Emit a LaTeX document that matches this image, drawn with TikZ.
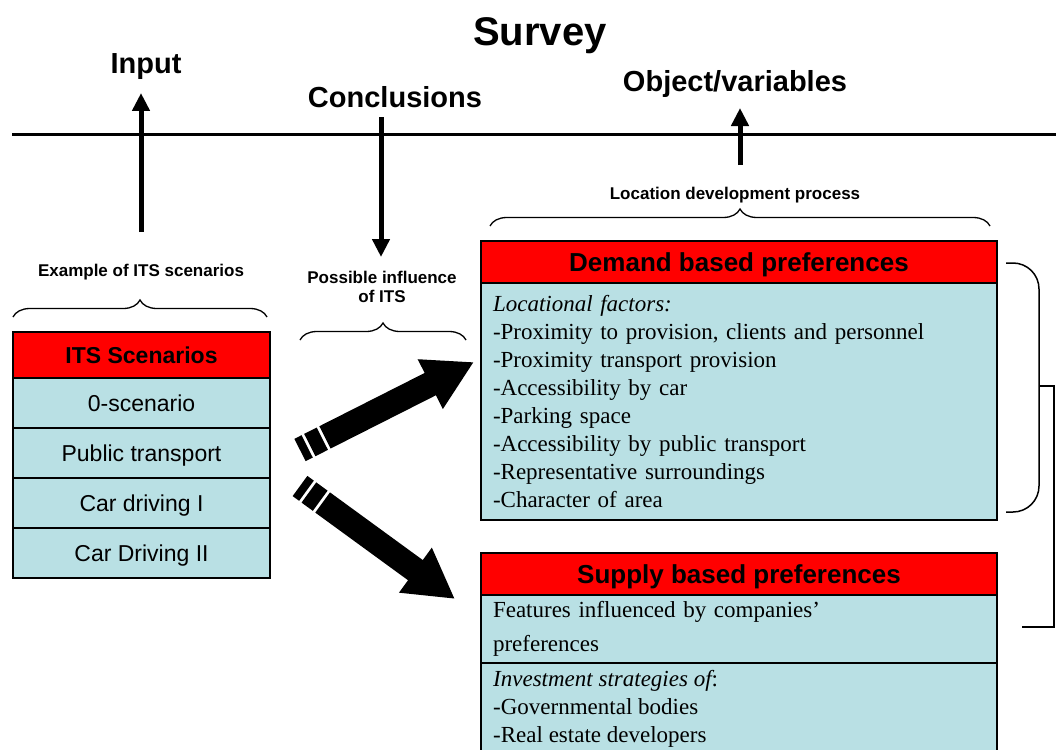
\documentclass[tikz,border=0pt]{standalone}
\usepackage{fontspec}
\setmainfont{Liberation Sans}
\newfontfamily\tnr{Liberation Serif}
\usetikzlibrary{positioning,arrows.meta,decorations.pathreplacing,calc}
\definecolor{cellblue}{RGB}{185,224,228}
\newcommand{\fs}[2]{\fontsize{#1}{#2}\selectfont}

\begin{document}
\begin{tikzpicture}[x=1pt,y=-1pt,
  hdr/.style={draw,line width=1.5pt,fill=red,outer sep=0pt,inner sep=0pt,minimum width=516pt,minimum height=42pt,text height=18.6pt,text depth=0pt,font=\bfseries\fs{26}{30}},
  cell/.style={draw,line width=1.5pt,fill=cellblue,outer sep=0pt,inner sep=0pt,minimum width=257pt,minimum height=50pt,text height=16.5pt,text depth=0pt,font=\fs{23}{26}},
  body/.style={draw,line width=1.5pt,fill=cellblue,outer sep=0pt,text width=492pt,align=left,inner xsep=12pt,inner ysep=0pt,font=\tnr\fs{23}{27.9}},
  title/.style={font=\bfseries\fs{29}{32},text height=20.8pt,text depth=0pt},
  small/.style={font=\bfseries\fs{17}{19},align=center},
  brace/.style={decorate,decoration={brace,amplitude=17pt},line width=1.3pt},
  thinarrow/.style={line width=5pt,-{Triangle[length=18pt,width=17pt]}},
  bigarrow/.style={line width=25pt,-{Triangle[length=49pt,width=52pt]}}
]
\clip (0,0) rectangle (1056,749);

% headings above and below the line
\node[font=\bfseries\fs{40}{44},text height=28.6pt,text depth=0pt] (survey) at (540,31) {Survey};
\node[title] (input) at (146,63) {Input};
\node[title] (concl) at (395,97) {Conclusions};
\node[title] (objvar) at (735,81) {Object/variables};
\coordinate (lineL) at (12,134.5);
\coordinate (lineR) at (1056,134.5);
\draw[line width=3.3pt] (lineL) -- (lineR);

\coordinate (inbot) at (141,232);
\coordinate (intip) at (141,93);
\coordinate (cotop) at (381,117);
\coordinate (cotip) at (381,257);
\coordinate (obbot) at (740,165);
\coordinate (obtip) at (740,108);
\draw[thinarrow] (inbot) -- (intip);
\draw[thinarrow] (cotop) -- (cotip);
\draw[thinarrow] (obbot) -- (obtip);

% braces and their labels
\node[small] (locdev) at (735,195) {Location development process};
\draw[brace] (490,226) -- (990,226);
\node[small] (example) at (141,272) {Example of ITS scenarios};
\draw[brace] (13,317) -- (267,317);
\node[small] (possible) at (382,287) {Possible influence\\of ITS};
\draw[brace] (300,340) -- (466,340);

% ITS scenarios
\node[cell,fill=red,minimum height=46pt,font=\bfseries\fs{23}{26}] (its) at (141.5,355) {ITS Scenarios};
\node[cell,below=0pt of its] (s0) {0-scenario};
\node[cell,below=0pt of s0] (s1) {Public transport};
\node[cell,below=0pt of s1] (s2) {Car driving I};
\node[cell,below=0pt of s2] (s3) {Car Driving II};

% demand side
\node[hdr] (dhead) at (739,262) {Demand based preferences};
\node[body,minimum height=237pt,below=0pt of dhead] (dbody) {\textit{Locational factors:}\\
  -Proximity to provision, clients and personnel\\
  -Proximity transport provision\\
  -Accessibility by car\\
  -Parking space\\
  -Accessibility by public transport\\
  -Representative surroundings\\
  -Character of area};

% supply side
\node[hdr] (shead) at (739,574) {Supply based preferences};
\node[body,minimum height=68pt,font=\tnr\fs{23}{34},below=0pt of shead] (sbody) {Features influenced by companies’\\preferences};
\node[body,minimum height=110pt,below=0pt of sbody] (sinv) {};
\node[anchor=north west,inner sep=0pt,align=left,font=\tnr\fs{23}{28}] (sinvtxt) at ($(sinv.north west)+(12,7)$) {{\itshape Investment strategies of}:\\-Governmental bodies\\-Real estate developers};

% block arrows
\coordinate (t1) at (300,450);
\coordinate (h1) at (474,362);
\coordinate (t2) at (300,486);
\coordinate (h2) at (455,599);
\draw[bigarrow] ($(t1)!28pt!(h1)$) -- (h1);
\draw[line width=25pt] (t1) -- ($(t1)!8pt!(h1)$);
\draw[line width=25pt] ($(t1)!11pt!(h1)$) -- ($(t1)!25pt!(h1)$);
\draw[bigarrow] ($(t2)!28pt!(h2)$) -- (h2);
\draw[line width=25pt] (t2) -- ($(t2)!8pt!(h2)$);
\draw[line width=25pt] ($(t2)!11pt!(h2)$) -- ($(t2)!25pt!(h2)$);

% bracket joining the two sides
\draw[line width=1.5pt,rounded corners=26pt] (1006,263) -- (1039,263) -- (1039,512) -- (1006,512);
\coordinate (brmid) at (1039,386);
\coordinate (brend) at (1022,627);
\draw[line width=1.5pt] (brmid) -- (1054,386) -- (1054,627) -- (brend);

\end{tikzpicture}
\end{document}
